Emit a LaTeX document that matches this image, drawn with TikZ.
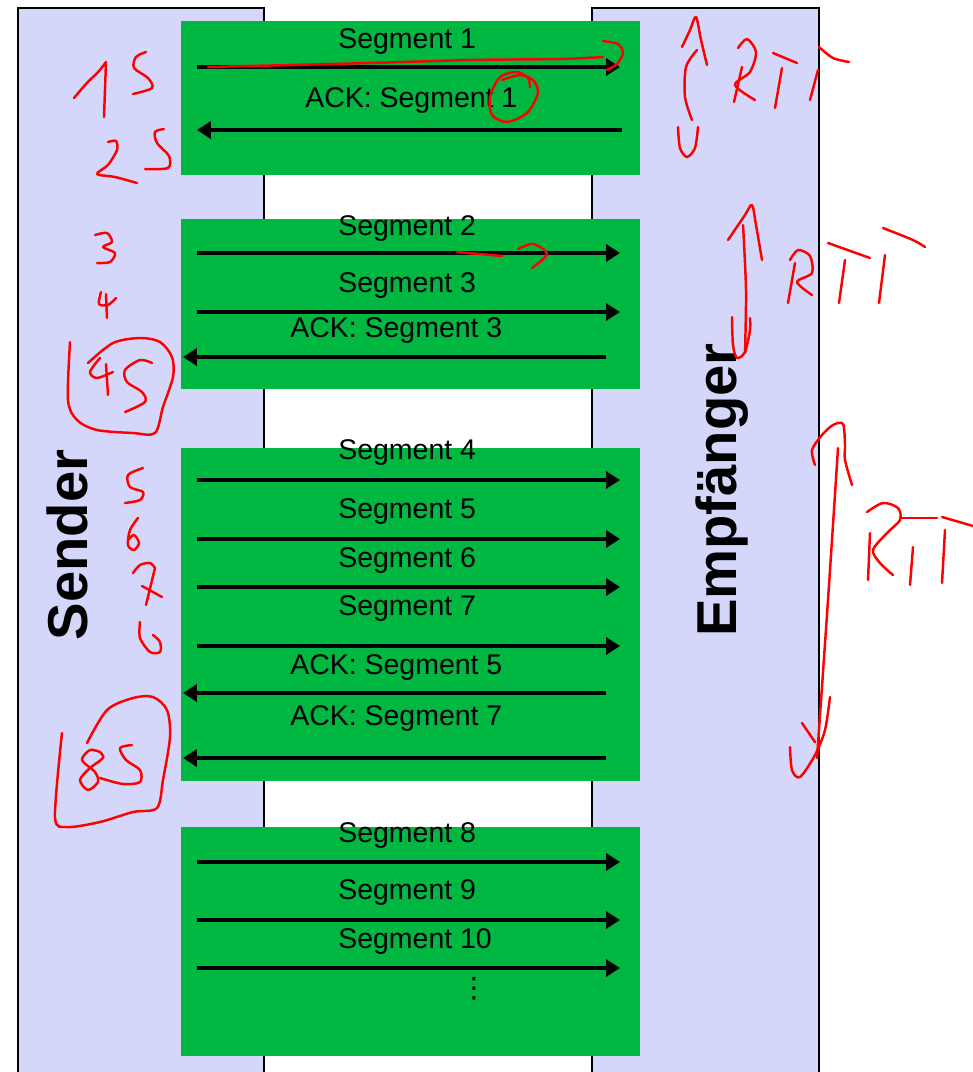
\documentclass[tikz,border=0pt]{standalone}
\usepackage{fontspec}
\setmainfont{Liberation Sans}
\newfontfamily\symbolfont{DejaVu Sans}
\usetikzlibrary{arrows.meta,positioning}
\definecolor{lanefill}{RGB}{213,215,250}
\definecolor{windowgreen}{RGB}{0,183,66}

\begin{document}
\begin{tikzpicture}[x=0.02cm,y=-0.02cm]
    % Stile
    \tikzset{
        lane/.style={rectangle, draw, line width=1.1pt, fill=lanefill, anchor=north west, minimum height=21.6cm, inner sep=0pt},
        lanetitle/.style={rotate=90, font=\fontsize{32}{36}\selectfont\bfseries},
        window/.style={rectangle, fill=windowgreen, anchor=north west, minimum width=9.18cm, inner sep=0pt},
        seglabel/.style={anchor=base west, inner sep=0pt, font=\fontsize{16.2}{19}\selectfont},
        arrow/.style={-{Triangle[length=0.28cm,width=0.34cm]}, line width=2.7pt},
        note/.style={draw=red, line width=1.4pt, line cap=round, line join=round}
    }
    \useasboundingbox (0,0) rectangle (973,1072);

    % Sender und Empfaenger
    \node[lane, minimum width=4.92cm] (sender) at (17,7) {};
    \node[lane, minimum width=4.54cm] (empf) at (591,7) {};
    \node[lanetitle] (sendertext) at (67,545) {Sender};
    \node[lanetitle] (empftext) at (722,490) {Empfänger};

    % Fenster
    \node[window, minimum height=3.08cm] (w1) at (181,21) {};
    \node[window, minimum height=3.40cm] (w2) at (181,219) {};
    \node[window, minimum height=6.66cm] (w3) at (181,448) {};
    \node[window, minimum height=4.58cm] (w4) at (181,827) {};

    % Segmente
    \foreach \y [count=\i] in {67,253,312,480,539,587,646,862,920,968} {
        \coordinate (sl\i) at (197,\y);
        \coordinate (sr\i) at (620,\y);
        \draw[arrow] (sl\i) -- (sr\i);
    }
    \foreach \y/\t in {48/1,235/2,292/3,459/4,518/5,567/6,615/7,842/8,899/9,948/10} {
        \node[seglabel] (seg\t) at (338,\y) {Segment \t};
    }

    % ACKs
    \coordinate (ar1) at (622,130);
    \coordinate (al1) at (197,130);
    \draw[arrow] (ar1) -- (al1);
    \foreach \y [count=\i from 2] in {357,693,758} {
        \coordinate (ar\i) at (606,\y);
        \coordinate (al\i) at (183,\y);
        \draw[arrow] (ar\i) -- (al\i);
    }
    \node[seglabel] (ack1) at (305,107) {ACK: Segment 1};
    \node[seglabel] (ack3) at (290,337) {ACK: Segment 3};
    \node[seglabel] (ack5) at (290,674) {ACK: Segment 5};
    \node[seglabel] (ack7) at (290,725) {ACK: Segment 7};
    \node[font=\fontsize{16}{19}\selectfont\symbolfont] (more) at (474,989) {⋮};

    % Notizen links
    \draw[note] plot[smooth] coordinates {(74,98) (86,84) (99,71) (106,62)} -- (104,117);
    \draw[note] plot[smooth] coordinates {(146,52) (136,57) (134,68) (148,78) (152,88) (133,94)};
    \draw[note] plot[smooth] coordinates {(108,142) (116,141) (117,150) (108,165) (97,174) (115,177) (137,183)};
    \draw[note] plot[smooth] coordinates {(164,129) (155,132) (157,143) (169,156) (168,168) (145,169)};
    \draw[note] plot[smooth] coordinates {(95,235) (107,233) (112,242) (103,247) (115,253) (110,262) (97,263)};
    \draw[note] plot[smooth] coordinates {(101,292) (99,304) (108,305) (116,298)};
    \draw[note] (106,294) -- (107,318);
    \draw[note] plot[smooth] coordinates {(70,342) (68,400) (77,420) (97,430) (133,433) (155,433) (163,407) (173,377) (172,357) (160,342) (140,338) (113,343) (88,363)};
    \draw[note] plot[smooth] coordinates {(100,358) (90,372) (97,378) (113,372)};
    \draw[note] (106,364) -- (108,395);
    \draw[note] plot[smooth] coordinates {(152,363) (140,360) (125,370) (127,382) (142,392) (145,402) (125,412)};
    \draw[note] plot[smooth] coordinates {(143,468) (128,475) (130,487) (143,492) (140,500) (125,503)};
    \draw[note] plot[smooth] coordinates {(138,518) (130,530) (128,545) (134,550) (139,543) (134,535) (128,540)};
    \draw[note] plot[smooth] coordinates {(133,573) (140,565) (150,563) (155,568)} -- (146,605);
    \draw[note] (142,586) -- (162,597);
    \draw[note] plot[smooth] coordinates {(140,622) (140,638) (150,652) (160,652) (160,642) (153,635)};
    \draw[note] plot[smooth] coordinates {(62,733) (55,817) (67,827) (100,822) (133,812) (157,808) (163,780) (170,737) (167,710) (153,697) (133,698) (107,710) (87,743)};
    \draw[note] plot[smooth] coordinates {(100,752) (90,750) (82,760) (95,772) (98,782) (88,790) (80,780) (90,768) (103,758) (100,752)};
    \draw[note] plot[smooth] coordinates {(132,745) (120,748) (126,760) (140,770) (140,782) (123,784) (100,778)};

    % Notizen Mitte
    \draw[note] plot[smooth] coordinates {(208,67) (370,63) (470,60) (560,59) (603,57)};
    \draw[note] plot[smooth] coordinates {(603,41) (618,44) (623,53) (617,64) (607,70)};
    \draw[note] plot[smooth] coordinates {(530,87) (528,78) (517,72) (500,77) (490,97) (492,115) (507,122) (527,113) (538,93) (533,80) (520,75) (502,80)};
    \draw[note] (457,252) -- (502,256);
    \draw[note] plot[smooth] coordinates {(518,249) (533,244) (547,254) (532,268)};

    % RTT rechts
    \draw[note] plot[smooth] coordinates {(682,47) (690,30) (696,17) (701,40) (707,65)};
    \draw[note] plot[smooth] coordinates {(697,50) (686,67) (685,97) (692,120)};
    \draw[note] plot[smooth] coordinates {(698,127) (695,148) (687,157) (680,148) (678,127)};
    \draw[note] (742,67) -- (734,102);
    \draw[note] plot[smooth] coordinates {(738,48) (747,39) (756,52) (750,72) (735,85) (755,100)};
    \draw[note] (773,53) -- (797,63);
    \draw[note] (782,68) -- (775,108);
    \draw[note] plot[smooth] coordinates {(819,47) (833,58) (849,62)};
    \draw[note] (818,70) -- (810,100);

    \draw[note] plot[smooth] coordinates {(728,240) (745,215) (752,205) (756,225) (762,260)};
    \draw[note] plot[smooth] coordinates {(743,225) (746,290) (745,353)};
    \draw[note] plot[smooth] coordinates {(732,317) (733,345) (737,358) (745,352) (750,330) (750,318)};
    \draw[note] (795,263) -- (788,303);
    \draw[note] plot[smooth] coordinates {(790,260) (798,250) (810,256) (812,273) (797,282) (812,295)};
    \draw[note] (828,243) -- (870,258);
    \draw[note] (845,260) -- (839,303);
    \draw[note] plot[smooth] coordinates {(883,228) (913,240) (925,247)};
    \draw[note] (885,255) -- (879,303);

    \draw[note] plot[smooth] coordinates {(815,465) (812,450) (822,435) (833,425) (843,424) (845,445) (845,460) (852,485)};
    \draw[note] plot[smooth] coordinates {(838,448) (828,600) (817,758)};
    \draw[note] plot[smooth] coordinates {(830,697) (825,730) (815,755) (800,777) (792,770) (790,747)};
    \draw[note] (802,723) -- (815,742);
    \draw[note] (870,533) -- (868,580);
    \draw[note] plot[smooth] coordinates {(867,512) (883,503) (898,508) (900,520) (887,533) (873,550) (880,563) (893,575)};
    \draw[note] (900,518) -- (937,518);
    \draw[note] (913,547) -- (910,585);
    \draw[note] (942,517) -- (973,526);
    \draw[note] (945,530) -- (942,583);
\end{tikzpicture}
\end{document}
